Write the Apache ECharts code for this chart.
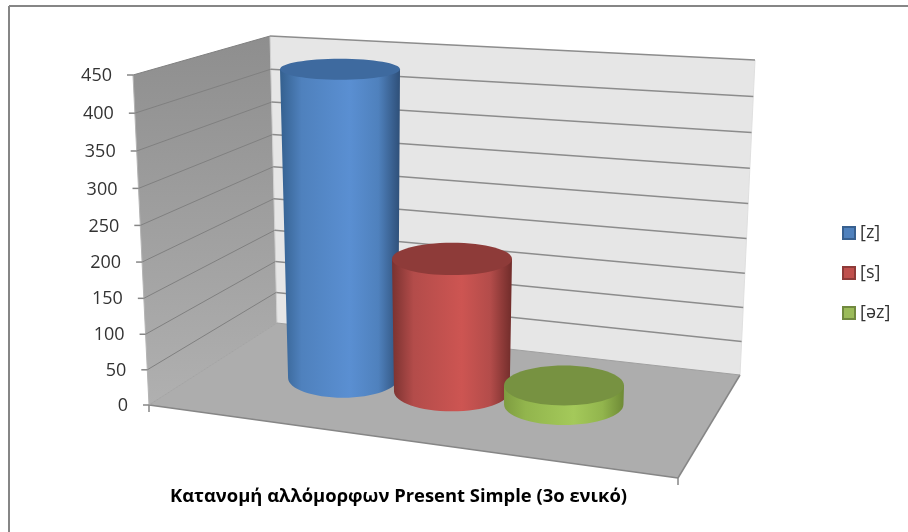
<!DOCTYPE html>
<html>
<head>
<meta charset="utf-8">
<style>html,body{margin:0;padding:0;background:#fff}#chart{width:908px;height:532px}</style>
<script src="https://cdn.jsdelivr.net/npm/echarts@6/dist/echarts.min.js"></script>
</head>
<body>
<div id="chart"></div>
<script>
// Distribution of Present Simple third-person allomorphs
const categories = ['[z]', '[s]', '[əz]'];
const zValues = [441];
const sValues = [189];
const ezValues = [27];
const tickValues = [0, 50, 100, 150, 200, 250, 300, 350, 400, 450];
const chartTitle = 'Κατανομή αλλόμορφων Present Simple (3ο ενικό)';

const FONT = '"Open Sans", "Noto Sans", sans-serif';

// Corners of the 3D box as seen by the camera
const LEFT_FRONT = [[149, 405], [133, 75]];
const LEFT_BACK = [[277, 323], [270, 36]];
const RIGHT_BACK = [[740, 375], [755, 60]];
const FLOOR_FRONT_RIGHT = [678, 478];
const PERSPECTIVE_K = 1.047;

const lerp = (a, b, t) => [a[0] + (b[0] - a[0]) * t, a[1] + (b[1] - a[1]) * t];

// Position along a vertical edge of the box for a value, taken from the value axis
function edgePoint(api, edge, v) {
  const y0 = api.coord([0, 0])[1];
  const y1 = api.coord([0, 450])[1];
  const t = (y0 - api.coord([0, v])[1]) / (y0 - y1);
  return lerp(edge[0], edge[1], t / (t + PERSPECTIVE_K * (1 - t)));
}

const line = (a, b, color, width) => ({
  type: 'line',
  shape: { x1: a[0], y1: a[1], x2: b[0], y2: b[1] },
  style: { stroke: color, lineWidth: width }
});
const poly = (points, fill) => ({ type: 'polygon', shape: { points }, style: { fill } });

function renderWalls() {
  const lf = LEFT_FRONT, lb = LEFT_BACK, rb = RIGHT_BACK;
  return {
    type: 'group',
    children: [
      poly([lb[1], rb[1], rb[0], lb[0]], '#e6e6e6'),
      poly([lf[1], lb[1], lb[0], lf[0]], {
        type: 'linear', x: 0, y: 0, x2: 0, y2: 1,
        colorStops: [{ offset: 0, color: '#8e8e8e' }, { offset: 1, color: '#b0b0b0' }]
      }),
      poly([lf[0], lb[0], rb[0], FLOOR_FRONT_RIGHT], '#adadad'),
      line(lf[1], lf[0], '#b4b4b4', 1),
      line(rb[1], rb[0], '#e0e0e0', 1),
      line(lb[1], lb[0], '#d0d0d0', 1),
      line(lf[0], FLOOR_FRONT_RIGHT, '#868686', 1.5),
      line(FLOOR_FRONT_RIGHT, rb[0], '#868686', 1.5),
      line(lf[0], lb[0], '#a4a4a4', 1),
      line(lb[0], rb[0], '#a0a0a0', 1),
      line(lf[0], [lf[0][0], lf[0][1] + 7], '#868686', 1.5),
      line(FLOOR_FRONT_RIGHT, [FLOOR_FRONT_RIGHT[0], FLOOR_FRONT_RIGHT[1] + 7], '#868686', 1.5)
    ]
  };
}

// One gridline pair, tick mark and tick label per axis value
function renderTick(params, api) {
  const v = api.value(1);
  const a = edgePoint(api, LEFT_FRONT, v);
  const b = edgePoint(api, LEFT_BACK, v);
  const c = edgePoint(api, RIGHT_BACK, v);
  const children = [
    line([a[0] - 6, a[1]], a, '#868686', 1.5),
    {
      type: 'text',
      style: {
        x: a[0] - 21, y: a[1] + 1, text: String(v), align: 'right', verticalAlign: 'middle',
        font: '18px ' + FONT, fill: '#333333'
      }
    }
  ];
  if (v > 0) {
    children.push(line(a, b, '#808080', 1));
    children.push(line(b, c, '#8c8c8c', 1.5));
  }
  return { type: 'group', children };
}

// Shading of each cylinder: side gradient stops and cap colour
const SHADES = {
  '[z]': { cap: '#3e6a9f', edgeL: '#34608f', mid: '#4f81bd', peak: '#5a8fd2', edgeR: '#2e4f78' },
  '[s]': { cap: '#8e3b39', edgeL: '#7a3230', mid: '#b34c4a', peak: '#cd5552', edgeR: '#702c2a' },
  '[əz]': { cap: '#779241', edgeL: '#7e9c40', mid: '#92b54d', peak: '#a4c95a', edgeR: '#6e8a36' }
};

const BASE_SLOPE = 0.118;
const RX = 60;

function ellipseRy(y) {
  return 10.5 + 0.03 * (y - 70);
}

function renderCylinder(params, api) {
  const name = categories[api.value(0)];
  const shade = SHADES[name];
  const top = api.coord([api.value(0), api.value(1)]);
  const base = api.coord([api.value(0), 0]);
  const shift = BASE_SLOPE * (top[0] - 340);
  const topY = top[1] + shift;
  const baseY = base[1] + shift;
  const h = baseY - topY;
  const tx = top[0];
  const bx = tx + (440 - tx) * 0.0001 * h;
  const rxB = RX * (1 - 0.00027 * h);
  const ryT = ellipseRy(topY);
  const ryB = ellipseRy(baseY);
  const k = 0.5523;
  const side = {
    type: 'path',
    shape: {
      pathData: [
        'M', tx - RX, topY,
        'L', bx - rxB, baseY,
        'C', bx - rxB, baseY + ryB * k, bx - rxB * k, baseY + ryB, bx, baseY + ryB,
        'C', bx + rxB * k, baseY + ryB, bx + rxB, baseY + ryB * k, bx + rxB, baseY,
        'L', tx + RX, topY, 'Z'
      ].join(' ')
    },
    style: {
      fill: {
        type: 'linear', x: 0, y: 0, x2: 1, y2: 0,
        colorStops: [
          { offset: 0, color: shade.edgeL },
          { offset: 0.18, color: shade.mid },
          { offset: 0.58, color: shade.peak },
          { offset: 0.82, color: shade.mid },
          { offset: 1, color: shade.edgeR }
        ]
      }
    }
  };
  const cap = {
    type: 'ellipse',
    shape: { cx: tx, cy: topY, rx: RX, ry: ryT },
    style: { fill: shade.cap }
  };
  return { type: 'group', children: [side, cap] };
}

const chart = echarts.init(document.getElementById('chart'), null, { renderer: 'canvas' });

const cylinder = (name, values, index, color, border) => ({
  name,
  type: 'custom',
  renderItem: renderCylinder,
  clip: false,
  silent: true,
  z: 5 + index,
  encode: { x: 0, y: 1 },
  itemStyle: { color, borderColor: border, borderWidth: 1.5 },
  data: values.map(v => [index, v])
});

chart.setOption({
  animation: false,
  backgroundColor: '#ffffff',
  title: {
    text: chartTitle,
    left: 398.5,
    top: 488,
    padding: 0,
    textAlign: 'center',
    textStyle: { fontFamily: FONT, fontSize: 18.4, fontWeight: 'bold', color: '#000000' }
  },
  legend: {
    orient: 'vertical',
    left: 842,
    top: 222,
    padding: 0,
    itemWidth: 12,
    itemHeight: 12,
    itemGap: 18,
    selectedMode: false,
    icon: 'rect',
    data: categories,
    textStyle: { fontFamily: FONT, fontSize: 18, lineHeight: 22, color: '#333333' }
  },
  grid: { left: 284, width: 336, top: 63, height: 315, containLabel: false },
  xAxis: { type: 'category', data: categories, show: false },
  yAxis: { type: 'value', min: 0, max: 450, interval: 50, show: false },
  graphic: [
    {
      type: 'line',
      shape: { x1: 9, y1: 6, x2: 908, y2: 6 },
      style: { stroke: '#868686', lineWidth: 2 },
      silent: true
    },
    {
      type: 'line',
      shape: { x1: 9, y1: 6, x2: 9, y2: 532 },
      style: { stroke: '#868686', lineWidth: 2 },
      silent: true
    }
  ],
  series: [
    {
      name: 'walls', type: 'custom', renderItem: renderWalls, clip: false, silent: true, z: 1,
      encode: { x: 0, y: 1 }, data: [[0, 0]]
    },
    {
      name: 'ticks', type: 'custom', renderItem: renderTick, clip: false, silent: true, z: 2,
      encode: { x: 0, y: 1 }, data: tickValues.map(v => [0, v])
    },
    cylinder('[z]', zValues, 0, '#4f81bd', '#38608f'),
    cylinder('[s]', sValues, 1, '#c0504d', '#8e3b39'),
    cylinder('[əz]', ezValues, 2, '#9bbb59', '#71893f')
  ]
});
</script>
</body>
</html>
